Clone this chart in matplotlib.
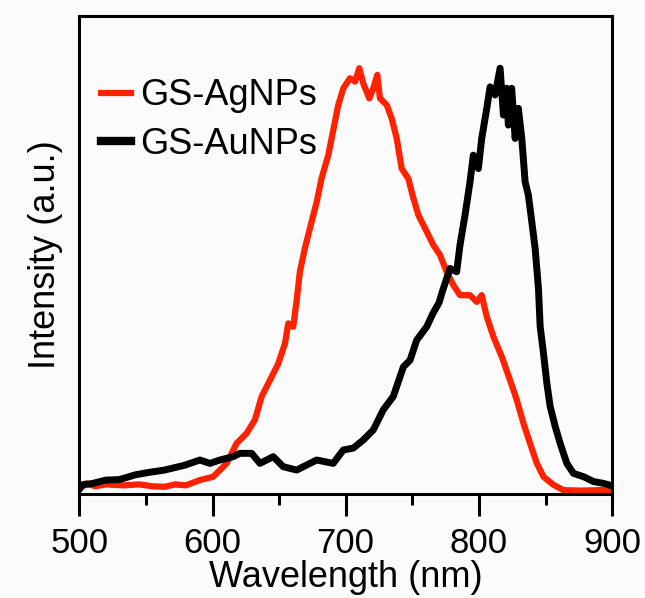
import numpy as np
import matplotlib
matplotlib.use("Agg")
from matplotlib import pyplot as plt
from matplotlib.ticker import MultipleLocator

plt.rcParams['font.family'] = ['Liberation Sans', 'DejaVu Sans']

# GS-AgNPs (red) - wavelength / intensity
ag_wl = [500, 505, 512, 520, 533, 545, 555, 564, 572, 580, 590.5, 600.5, 610.6, 618.1,
         625.6, 631.8, 636.9, 643.1, 649.4, 654.4, 656.9, 660.6, 663.2, 665.6, 669.4,
         674.4, 678.2, 681.9, 686.9, 691.9, 694.4, 698.2, 703.2, 707, 710.2, 713.2,
         717.7, 720.7, 723.7, 725.7, 730.8, 734.5, 738.3, 742, 747, 750.8, 754.5,
         760.8, 765.8, 770.8, 775.8, 780.8, 785.8, 793.3, 798.4, 802.1, 805.9, 810.9,
         817.2, 823.4, 828.4, 833.4, 838.4, 843.5, 848.5, 856, 863.4, 876, 891, 900]
ag_int = [0.010, 0.022, 0.016, 0.020, 0.018, 0.020, 0.016, 0.015, 0.020, 0.018, 0.029,
          0.036, 0.064, 0.106, 0.127, 0.155, 0.204, 0.238, 0.273, 0.315, 0.357, 0.350,
          0.406, 0.465, 0.515, 0.570, 0.611, 0.661, 0.709, 0.779, 0.814, 0.849, 0.870,
          0.863, 0.891, 0.859, 0.828, 0.849, 0.877, 0.828, 0.814, 0.786, 0.744, 0.681,
          0.660, 0.619, 0.584, 0.549, 0.521, 0.500, 0.465, 0.437, 0.416, 0.416, 0.402,
          0.416, 0.371, 0.329, 0.287, 0.238, 0.197, 0.148, 0.106, 0.064, 0.036, 0.019,
          0.008, 0.007, 0.008, 0.007]

# GS-AuNPs (black)
au_wl = [500, 502, 510, 520, 530, 542, 552, 564, 579, 590.5, 598, 605.5, 615.5, 620.6,
         629.4, 635.6, 645.6, 653.1, 663.2, 668.1, 678.2, 690.6, 698.2, 705.7, 713.2,
         720.7, 728.2, 735.7, 743.3, 748.3, 753.3, 760.8, 765.5, 770, 773.3, 778.3,
         783.3, 785.8, 789.6, 793.3, 795.8, 799.6, 802.1, 805.9, 808.4, 812.1, 815.9,
         818.4, 820.9, 822.1, 824.6, 827.2, 829.6, 832.2, 834.7, 837.1, 839.7, 842.2,
         844.7, 846, 848.5, 851, 853.5, 857.3, 861, 866, 871, 878.6, 886, 893.6, 900]
au_int = [0.010, 0.019, 0.022, 0.029, 0.030, 0.040, 0.045, 0.050, 0.060, 0.071, 0.064,
          0.071, 0.078, 0.085, 0.085, 0.064, 0.078, 0.057, 0.050, 0.057, 0.071, 0.064,
          0.092, 0.096, 0.113, 0.134, 0.176, 0.204, 0.266, 0.280, 0.322, 0.350, 0.378,
          0.400, 0.430, 0.472, 0.465, 0.521, 0.584, 0.653, 0.709, 0.681, 0.744, 0.807,
          0.852, 0.835, 0.891, 0.793, 0.849, 0.772, 0.849, 0.744, 0.807, 0.744, 0.653,
          0.626, 0.570, 0.514, 0.430, 0.350, 0.294, 0.232, 0.183, 0.141, 0.106, 0.064,
          0.043, 0.036, 0.026, 0.022, 0.017]

fig = plt.figure(figsize=(6.45, 5.98), dpi=100, facecolor='#fbfbfb')
ax = fig.add_axes([0.123, 0.174, 0.826, 0.799])
ax.set_facecolor('#fbfbfb')

ax.plot(ag_wl, ag_int, color='#ff2200', lw=4.5, label='GS-AgNPs')
ax.plot(au_wl, au_int, color='black', lw=5, label='GS-AuNPs')

ax.set_xlim(500, 900)
ax.set_ylim(0, 1)
ax.xaxis.set_major_locator(MultipleLocator(100))
ax.xaxis.set_minor_locator(MultipleLocator(50))
ax.set_yticks([])
ax.tick_params(axis='x', which='major', direction='out', length=16, width=2.2,
               labelsize=25, pad=8)
ax.tick_params(axis='x', which='minor', direction='out', length=8, width=2.2)
for s in ax.spines.values():
    s.set_linewidth(2.2)

ax.set_xlabel('Wavelength (nm)', fontsize=26, labelpad=0)
ax.set_ylabel('Intensity (a.u.)', fontsize=26, labelpad=12)

leg = ax.legend(loc='upper left', bbox_to_anchor=(-0.021, 0.938), frameon=False,
                fontsize=26, handlelength=0.85, handletextpad=0.25, labelspacing=0.38)
leg.get_lines()[0].set_linewidth(4.5)
leg.get_lines()[1].set_linewidth(6)

fig.savefig('out.png', dpi=100, facecolor=fig.get_facecolor())
